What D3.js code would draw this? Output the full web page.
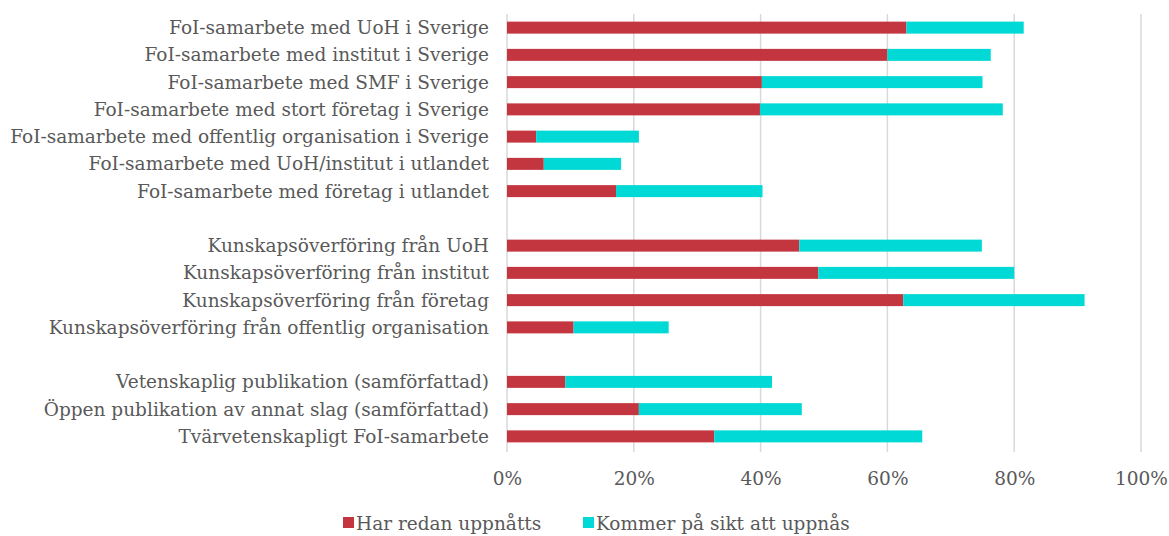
<!DOCTYPE html>
<html><head><meta charset="utf-8">
<script src="https://cdn.jsdelivr.net/npm/d3@7"></script>
<style>
body{margin:0;background:#fff;}
svg text{font-family:"DejaVu Serif",Georgia,serif;fill:#595959;}
</style></head>
<body><svg id="c" width="1169" height="536"></svg>
<script>
const categories = [
 "FoI-samarbete med UoH i Sverige",
 "FoI-samarbete med institut i Sverige",
 "FoI-samarbete med SMF i Sverige",
 "FoI-samarbete med stort företag i Sverige",
 "FoI-samarbete med offentlig organisation i Sverige",
 "FoI-samarbete med UoH/institut i utlandet",
 "FoI-samarbete med företag i utlandet",
 "",
 "Kunskapsöverföring från UoH",
 "Kunskapsöverföring från institut",
 "Kunskapsöverföring från företag",
 "Kunskapsöverföring från offentlig organisation",
 " ",
 "Vetenskaplig publikation (samförfattad)",
 "Öppen publikation av annat slag (samförfattad)",
 "Tvärvetenskapligt FoI-samarbete"
];
const harRedan = [0.630,0.600,0.402,0.399,0.046,0.058,0.172,null,0.461,0.491,0.625,0.105,null,0.092,0.208,0.327];
const kommerPaSikt = [0.185,0.163,0.348,0.383,0.162,0.122,0.231,null,0.288,0.309,0.286,0.150,null,0.326,0.257,0.328];
const seriesNames = ["Har redan uppnåtts","Kommer på sikt att uppnås"];
const tickValues = [0,0.2,0.4,0.6,0.8,1.0];
const colors = ["#C3363F","#00D9D5"];

const svg = d3.select("#c");
const m = {left:507, right:1141, top:14, bottom:450};
const fs = "18.5px";
const x = d3.scaleLinear().domain([0,1]).range([m.left,m.right]);
const y = d3.scaleBand().domain(categories).range([m.top,m.bottom]).paddingInner(0.56).paddingOuter(0.28);

// gridlines
svg.append("g").selectAll("line").data(tickValues).join("line")
  .attr("x1",d=>x(d)).attr("x2",d=>x(d)).attr("y1",m.top).attr("y2",m.bottom+2)
  .attr("stroke","#d9d9d9").attr("stroke-width",1.5);

const rows = categories.map((c,i)=>({c,a:harRedan[i],b:kommerPaSikt[i]})).filter(r=>r.a!==null);
const g = svg.append("g");
g.selectAll("rect.a").data(rows).join("rect").attr("class","a")
  .attr("x",x(0)).attr("y",d=>y(d.c)).attr("height",y.bandwidth())
  .attr("width",d=>x(d.a)-x(0)).attr("fill",colors[0]);
g.selectAll("rect.b").data(rows).join("rect").attr("class","b")
  .attr("x",d=>x(d.a)).attr("y",d=>y(d.c)).attr("height",y.bandwidth())
  .attr("width",d=>x(d.a+d.b)-x(d.a)).attr("fill",colors[1]);

// category labels
svg.append("g").selectAll("text").data(categories).join("text")
  .attr("x",489).attr("y",d=>y(d)+y.bandwidth()/2).attr("dy","0.35em")
  .attr("text-anchor","end").style("font-size",fs).text(d=>d.trim());

// x axis labels
const xAxis = d3.axisBottom(x).tickValues(tickValues).tickFormat(d3.format(".0%")).tickSize(0).tickPadding(0);
const ax = svg.append("g").attr("transform",`translate(0,${m.bottom})`).call(xAxis);
ax.select(".domain").remove();
ax.selectAll("text").attr("y",35).attr("dy","0").style("font-size",fs).style("font-family",'"DejaVu Serif",Georgia,serif').attr("fill","#595959");

// legend
const legX = [343,583];
const lg = svg.append("g").selectAll("g").data(seriesNames).join("g")
  .attr("transform",(d,i)=>`translate(${legX[i]},530)`);
lg.append("rect").attr("x",0).attr("y",-13).attr("width",11).attr("height",11).attr("fill",(d,i)=>colors[i]);
lg.append("text").attr("x",13).attr("y",0).style("font-size",fs).text(d=>d);
</script></body></html>
